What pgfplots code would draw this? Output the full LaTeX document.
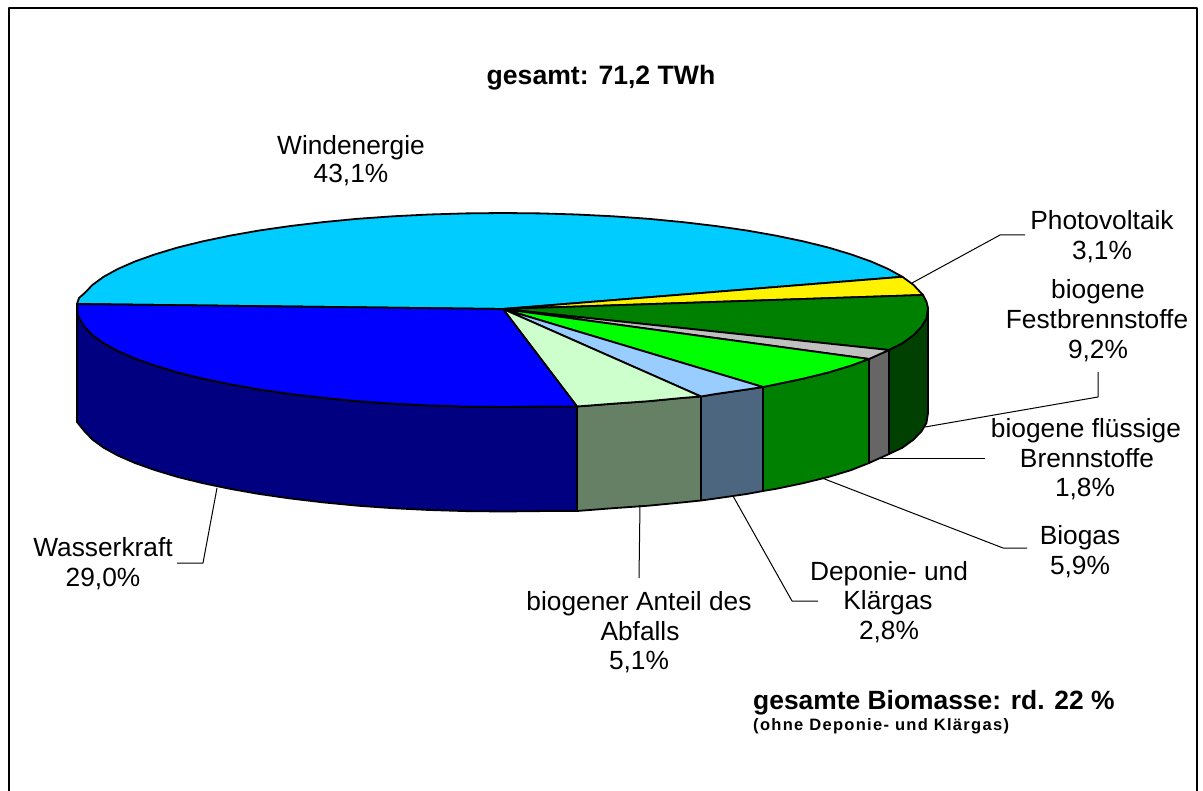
\documentclass[border=0pt]{standalone}
\usepackage{pgfplots}
\pgfplotsset{compat=1.18}
\usepackage{fontspec}
\setmainfont{Liberation Sans}
\newcommand{\lbl}[3]{\node[anchor=base,inner sep=0pt,font=\fontsize{26.3}{30}\selectfont] at (axis cs:#1,#2) {#3};}
\definecolor{wind}{HTML}{00CCFF}
\definecolor{pale}{HTML}{CCFFCC}
\definecolor{lblue}{HTML}{99CCFF}
\definecolor{sgreen}{HTML}{668066}
\definecolor{sblue}{HTML}{4D6680}
\definecolor{dgreen}{HTML}{008000}
\definecolor{ddgreen}{HTML}{004000}
\definecolor{navyb}{HTML}{000080}
\definecolor{sgray}{HTML}{666666}
\definecolor{lgray}{HTML}{C0C0C0}
\begin{document}
\begin{tikzpicture}[x=1pt,y=1pt]
\path[use as bounding box] (0,0) rectangle (1203,791);
\begin{axis}[at={(0,0)},anchor=south west,scale only axis,width=1203pt,height=791pt,
  xmin=0,xmax=1203,ymin=0,ymax=791,y dir=reverse,hide axis,clip=false,
  every axis plot/.append style={line join=round}]
% frame
\addplot[black,line width=2pt] coordinates {(8.5,791) (8.5,8.5) (1197,8.5) (1197,791)};
% side faces
\addplot[fill=navyb,draw=black,line width=1.8pt] coordinates {(577,406.5)(540.1,406.6)(503,407)(465.9,406.6)(429.2,405.5)(393,403.7)(357.6,401.2)(323.4,397.9)(290.5,394)(259.2,389.5)(229.8,384.3)(202.5,378.6)(177.4,372.4)(154.9,365.6)(134.9,358.5)(117.8,351)(103.6,343.2)(92.5,335.1)(84.5,326.8)(78,316)(77,304)(77,422)(84.5,431.3)(92.5,439.6)(103.6,447.7)(117.8,455.5)(134.9,463)(154.9,470.1)(177.4,476.9)(202.5,483.1)(229.8,488.8)(259.2,494)(290.5,498.5)(323.4,502.4)(357.6,505.7)(393,508.2)(429.2,510)(465.9,511.1)(503,511.5)(540.1,511.1)(577,511) (577,406.5)};
\addplot[fill=sgreen,draw=black,line width=1.8pt] coordinates {(577,406.5)(613,403.7)(648.4,401.2)(682.6,397.9)(701,396.5)(701,500.5)(682.6,502.4)(648.4,505.7)(613,508.2)(577,511)(577,406.5)};
\addplot[fill=sblue,draw=black,line width=1.8pt] coordinates {(701,396.5)(715.5,394)(746.8,389.5)(763,387)(763,491)(746.8,494)(715.5,498.5)(701,500.5)(701,396.5)};
\addplot[fill=dgreen,draw=black,line width=1.8pt] coordinates {(763,387)(776.2,384.3)(803.5,378.6)(828.6,372.4)(851.1,365.6)(869,359)(869,463)(851.1,470.1)(828.6,476.9)(803.5,483.1)(776.2,488.8)(763,491)(763,387)};
\addplot[fill=sgray,draw=black,line width=1.8pt] coordinates {(869,359)(889,350)(889,454)(869,463)(869,359)};
\addplot[fill=ddgreen,draw=black,line width=1.8pt] coordinates {(889,350)(902.4,343.2)(913.5,335.1)(921.5,326.8)(926.4,318.5)(928,308)(928,413)(926.4,423)(921.5,431.3)(913.5,439.6)(902.4,447.7)(889,454)(889,350)};
% top
\addplot[fill=wind,draw=black,line width=1.8pt] coordinates {(503,309)(902.4,276.8)(888.2,269)(871.1,261.5)(851.1,254.4)(828.6,247.6)(803.5,241.4)(776.2,235.7)(746.8,230.5)(715.5,226)(682.6,222.1)(648.4,218.8)(613,216.3)(576.8,214.5)(540.1,213.4)(503,213)(465.9,213.4)(429.2,214.5)(393,216.3)(357.6,218.8)(323.4,222.1)(290.5,226)(259.2,230.5)(229.8,235.7)(202.5,241.4)(177.4,247.6)(154.9,254.4)(134.9,261.5)(117.8,269)(103.6,276.8)(92.5,284.9)(84.5,293.2)(79,298)(77,304)(503,309)};
\addplot[fill=yellow,draw=black,line width=1.8pt] coordinates {(503,309)(902.4,276.8)(913.5,284.9)(923,295)(503,309)};
\addplot[fill=dgreen,draw=black,line width=1.8pt] coordinates {(503,309)(923,295)(926.4,301.5)(928,308)(926.4,318.5)(921.5,326.8)(913.5,335.1)(902.4,343.2)(889,350)(503,309)};
\addplot[fill=lgray,draw=black,line width=1.8pt] coordinates {(503,309)(889,350)(869,359)(503,309)};
\addplot[fill=green,draw=black,line width=1.8pt] coordinates {(503,309)(869,359)(851.1,365.6)(828.6,372.4)(803.5,378.6)(776.2,384.3)(763,387)(503,309)};
\addplot[fill=lblue,draw=black,line width=1.8pt] coordinates {(503,309)(763,387)(746.8,389.5)(715.5,394)(701,396.5)(503,309)};
\addplot[fill=pale,draw=black,line width=1.8pt] coordinates {(503,309)(701,396.5)(682.6,397.9)(648.4,401.2)(613,403.7)(577,406.5)(503,309)};
\addplot[fill=blue,draw=black,line width=1.8pt] coordinates {(503,309)(577,406.5)(540.1,406.6)(503,407)(465.9,406.6)(429.2,405.5)(393,403.7)(357.6,401.2)(323.4,397.9)(290.5,394)(259.2,389.5)(229.8,384.3)(202.5,378.6)(177.4,372.4)(154.9,365.6)(134.9,358.5)(117.8,351)(103.6,343.2)(92.5,335.1)(84.5,326.8)(78,316)(77,304)(503,309)};
% leaders
\addplot[black,line width=1pt] coordinates {(912,283)(1000,235)(1025,235)};
\addplot[black,line width=1pt] coordinates {(925,427)(1098,397)(1098,372)};
\addplot[black,line width=1pt] coordinates {(880,459)(985,459)};
\addplot[black,line width=1pt] coordinates {(822,478)(1003,548)(1027,548)};
\addplot[black,line width=1pt] coordinates {(733,496)(792,601)(818,601)};
\addplot[black,line width=1pt] coordinates {(640,505)(639,578)};
\addplot[black,line width=1pt] coordinates {(217,488)(203,563)(177,563)};
% labels
\node[anchor=base,inner sep=0pt,font=\fontsize{26.6}{30}\selectfont\bfseries] at (axis cs:601,85) {gesamt: 71,2 TWh};
\lbl{351}{155}{Windenergie}
\lbl{351}{183}{43,1\%}
\lbl{1102}{230}{Photovoltaik}
\lbl{1102}{260}{3,1\%}
\lbl{1098}{299}{biogene}
\lbl{1097}{329}{Festbrennstoffe}
\lbl{1098}{359}{9,2\%}
\lbl{1086}{438}{biogene flüssige}
\lbl{1087}{468}{Brennstoffe}
\lbl{1085}{497}{1,8\%}
\lbl{1080}{544}{Biogas}
\lbl{1080}{574}{5,9\%}
\lbl{889}{580}{Deponie- und}
\lbl{888}{609}{Klärgas}
\lbl{889}{639}{2,8\%}
\lbl{639}{610}{biogener Anteil des}
\lbl{640}{640}{Abfalls}
\lbl{639}{669}{5,1\%}
\lbl{103}{557}{Wasserkraft}
\lbl{103}{586}{29,0\%}
\node[anchor=base west,inner sep=0pt,font=\fontsize{26.4}{30}\selectfont\bfseries] at (axis cs:753,709) {gesamte Biomasse: rd. 22 \%};
\node[anchor=base west,inner sep=0pt,font=\fontsize{16.5}{20}\selectfont\bfseries\addfontfeature{LetterSpace=8}] at (axis cs:753,730) {(ohne Deponie- und Klärgas)};
\end{axis}
\end{tikzpicture}
\end{document}
